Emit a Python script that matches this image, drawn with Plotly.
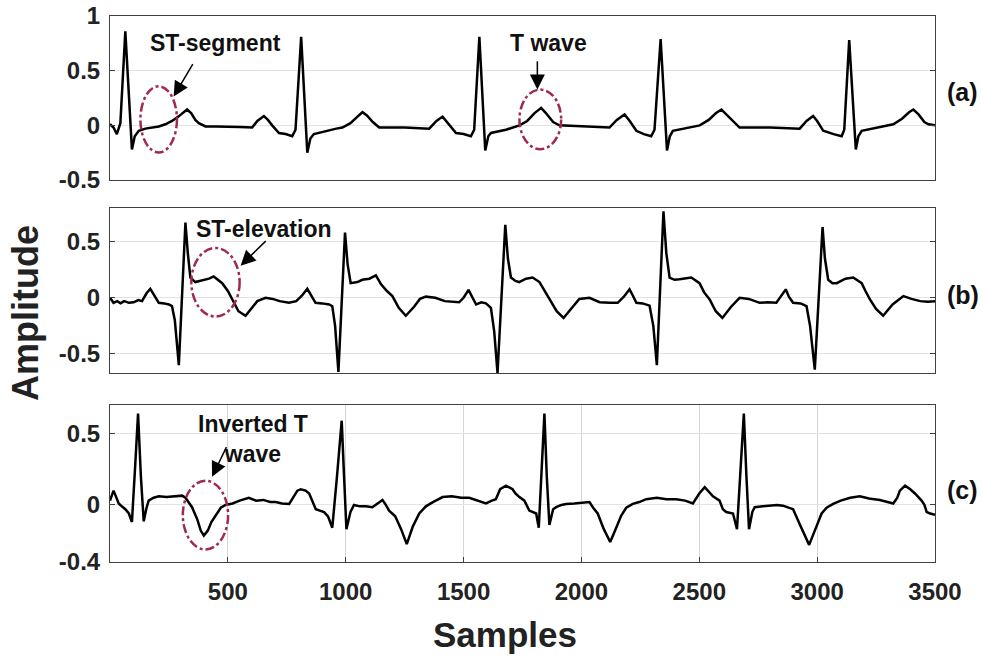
import plotly.graph_objects as go

# ---------------- data ----------------
samples_a = [0, 15, 29, 44, 65, 93, 105, 122, 150, 180,
             207, 235, 263, 290, 310, 327, 345, 362, 377, 405,
             450, 500, 550, 603, 625, 653, 670, 688, 717, 745,
             773, 787, 811, 837, 850, 865, 915, 960, 986, 1020,
             1050, 1071, 1090, 1115, 1142, 1250, 1354, 1385, 1411, 1435,
             1468, 1500, 1531, 1545, 1567, 1592, 1605, 1616, 1680, 1737,
             1770, 1800, 1829, 1850, 1880, 1906, 2000, 2119, 2150, 2183,
             2205, 2233, 2265, 2296, 2310, 2336, 2363, 2375, 2388, 2440,
             2502, 2540, 2570, 2594, 2615, 2645, 2671, 2800, 2926, 2955,
             2983, 3000, 3026, 3070, 3104, 3115, 3136, 3164, 3175, 3189,
             3250, 3323, 3360, 3390, 3408, 3430, 3455, 3472, 3500]
amp_a = [0.01, -0.02, -0.08, 0.02, 0.86, -0.22, -0.10, -0.05, -0.03, -0.02,
         -0.01, 0.01, 0.04, 0.08, 0.12, 0.145, 0.11, 0.05, 0.02, -0.01,
         -0.01, -0.01, -0.015, -0.02, 0.04, 0.085, 0.05, 0.0, -0.07, -0.08,
         -0.10, -0.04, 0.81, -0.25, -0.12, -0.08, -0.05, -0.03, -0.02, 0.02,
         0.08, 0.12, 0.09, 0.03, -0.02, -0.02, -0.03, 0.04, 0.08, 0.02,
         -0.07, -0.08, -0.10, -0.04, 0.81, -0.23, -0.10, -0.07, -0.04, 0.0,
         0.04, 0.11, 0.16, 0.11, 0.03, 0.0, -0.01, -0.02, 0.05, 0.10,
         0.04, -0.05, -0.08, -0.10, -0.04, 0.79, -0.23, -0.10, -0.05, -0.03,
         0.0, 0.05, 0.11, 0.145, 0.10, 0.03, -0.02, -0.02, -0.03, 0.04,
         0.085, 0.04, -0.05, -0.08, -0.10, -0.04, 0.78, -0.22, -0.10, -0.05,
         -0.02, 0.01, 0.06, 0.12, 0.145, 0.10, 0.03, 0.01, 0.0]

samples_b = [0, 15, 30, 45, 60, 80, 100, 120, 136, 155,
             171, 190, 207, 230, 250, 263, 275, 292, 320, 330,
             341, 362, 380, 400, 420, 440, 460, 476, 500, 518,
             545, 575, 600, 625, 660, 690, 720, 759, 790, 815,
             837, 855, 872, 900, 930, 943, 955, 969, 997, 1008,
             1021, 1050, 1070, 1100, 1128, 1150, 1175, 1198, 1225, 1255,
             1290, 1315, 1340, 1380, 1420, 1481, 1500, 1521, 1537, 1553,
             1575, 1595, 1616, 1630, 1644, 1677, 1688, 1701, 1720, 1736,
             1765, 1793, 1822, 1845, 1864, 1895, 1924, 1960, 1991, 2034,
             2077, 2120, 2154, 2180, 2204, 2218, 2233, 2260, 2289, 2305,
             2320, 2348, 2360, 2374, 2395, 2416, 2440, 2466, 2501, 2520,
             2544, 2570, 2598, 2635, 2671, 2710, 2756, 2790, 2827, 2850,
             2867, 2880, 2898, 2930, 2955, 2970, 2990, 3023, 3033, 3047,
             3065, 3083, 3120, 3153, 3189, 3205, 3224, 3250, 3280, 3320,
             3366, 3400, 3437, 3470, 3500]
amp_b = [0, -0.045, -0.03, -0.05, -0.03, -0.045, -0.04, -0.02, -0.03, 0.04,
         0.08, 0.02, -0.045, -0.05, -0.06, -0.075, -0.2, -0.60, 0.67, 0.4,
         0.18, 0.14, 0.15, 0.16, 0.17, 0.19, 0.16, 0.13, 0.06, -0.015,
         -0.12, -0.16, -0.10, -0.03, 0.0, -0.01, -0.03, -0.045, -0.03, 0.02,
         0.08, 0.02, -0.045, -0.05, -0.06, -0.075, -0.25, -0.66, 0.58, 0.3,
         0.13, 0.14, 0.16, 0.17, 0.20, 0.12, 0.06, 0.015, -0.09, -0.16,
         -0.08, -0.01, 0.01, 0.0, -0.03, -0.04, 0.0, 0.07, 0.01, -0.06,
         -0.04, -0.05, -0.09, -0.3, -0.67, 0.65, 0.35, 0.18, 0.15, 0.14,
         0.17, 0.18, 0.14, 0.06, -0.015, -0.12, -0.18, -0.09, -0.01, 0.0,
         -0.04, -0.045, -0.045, 0.01, 0.075, 0.02, -0.045, -0.05, -0.07, -0.25,
         -0.60, 0.77, 0.4, 0.18, 0.16, 0.165, 0.17, 0.18, 0.13, 0.05,
         -0.015, -0.12, -0.18, -0.08, 0.0, -0.01, -0.045, -0.04, -0.045, 0.02,
         0.075, 0.01, -0.045, -0.05, -0.075, -0.25, -0.64, 0.63, 0.35, 0.16,
         0.13, 0.13, 0.17, 0.18, 0.13, 0.06, -0.015, -0.1, -0.16, -0.06,
         0.015, -0.01, -0.03, -0.035, -0.03]

samples_c = [0, 15, 25, 37, 50, 65, 80, 93, 106, 119,
             131, 143, 155, 164, 185, 207, 240, 270, 306, 320,
             348, 370, 385, 398, 415, 430, 448, 470, 490, 520,
             550, 589, 620, 650, 680, 703, 730, 760, 780, 795,
             809, 830, 845, 860, 873, 890, 908, 925, 943, 963,
             983, 993, 1003, 1020, 1035, 1060, 1085, 1113, 1135, 1156,
             1170, 1184, 1210, 1235, 1259, 1285, 1312, 1340, 1370, 1411,
             1450, 1490, 1524, 1560, 1595, 1620, 1637, 1655, 1680, 1708,
             1720, 1737, 1758, 1779, 1795, 1808, 1819, 1831, 1843, 1853,
             1864, 1880, 1893, 1915, 1935, 1970, 2000, 2034, 2050, 2069,
             2095, 2122, 2145, 2169, 2190, 2218, 2245, 2275, 2320, 2360,
             2402, 2440, 2473, 2500, 2523, 2540, 2558, 2586, 2600, 2614,
             2643, 2660, 2675, 2689, 2700, 2711, 2725, 2735, 2770, 2800,
             2830, 2855, 2880, 2898, 2930, 2966, 2990, 3019, 3040, 3068,
             3100, 3140, 3181, 3220, 3266, 3300, 3323, 3340, 3351, 3373,
             3395, 3415, 3443, 3455, 3465, 3480, 3500]
amp_c = [0.03, 0.10, 0.06, 0.01, -0.01, -0.03, -0.06, -0.12, 0.25, 0.64,
         0.2, -0.115, -0.02, 0.03, 0.05, 0.06, 0.055, 0.06, 0.065, 0.05,
         -0.016, -0.1, -0.18, -0.215, -0.18, -0.12, -0.075, -0.02, 0.0, 0.01,
         0.03, 0.05, 0.03, 0.035, 0.02, 0.02, 0.01, 0.007, 0.06, 0.1,
         0.11, 0.1, 0.08, 0.02, -0.03, -0.04, -0.05, -0.08, -0.16, 0.2,
         0.59, 0.2, -0.17, -0.05, 0.0, -0.01, -0.01, -0.016, 0.01, 0.035,
         0.0, -0.04, -0.08, -0.17, -0.275, -0.15, -0.06, -0.01, 0.02, 0.055,
         0.06, 0.05, 0.05, 0.03, 0.01, 0.03, 0.04, 0.11, 0.135, 0.11,
         0.08, 0.055, 0.03, -0.04, -0.05, -0.06, -0.16, 0.25, 0.64, 0.2,
         -0.14, -0.03, -0.016, 0.0, 0.007, 0.01, 0.015, 0.02, -0.02, -0.06,
         -0.17, -0.26, -0.17, -0.075, -0.02, 0.007, 0.02, 0.04, 0.05, 0.04,
         0.04, 0.03, 0.01, 0.08, 0.125, 0.09, 0.06, 0.03, -0.03, -0.05,
         -0.06, -0.17, 0.25, 0.64, 0.2, -0.17, -0.05, -0.016, -0.01, -0.005,
         0.0, -0.005, -0.02, -0.03, -0.15, -0.28, -0.18, -0.06, -0.02, 0.007,
         0.03, 0.05, 0.06, 0.045, 0.035, 0.02, 0.01, 0.05, 0.10, 0.135,
         0.11, 0.08, 0.03, 0.0, -0.05, -0.06, -0.07]

x_ticks = [500, 1000, 1500, 2000, 2500, 3000, 3500]
y_ticks_a = [-0.5, 0, 0.5, 1]
y_ticks_b = [-0.5, 0, 0.5]
y_ticks_c = [-0.4, 0, 0.5]
panel_labels = ["(a)", "(b)", "(c)"]


def labels(vals):
    return [f"{v:g}" for v in vals]


# ---------------- figure ----------------
FONT = "Liberation Sans, Arial, Helvetica, sans-serif"
AX = "#404040"
GRID = "#e3e3e3"
fig = go.Figure()
line = dict(color="black", width=2.5)
fig.add_trace(go.Scatter(x=samples_a, y=amp_a, mode="lines", line=line, xaxis="x", yaxis="y", showlegend=False))
fig.add_trace(go.Scatter(x=samples_b, y=amp_b, mode="lines", line=line, xaxis="x2", yaxis="y2", showlegend=False))
fig.add_trace(go.Scatter(x=samples_c, y=amp_c, mode="lines", line=line, xaxis="x3", yaxis="y3", showlegend=False))

tickfont = dict(family=FONT, size=24, color="#222", weight="bold")
common_x = dict(range=[0, 3500], showline=True, linecolor=AX, linewidth=1, mirror=True, zeroline=False,
                automargin=False)
common_y = dict(showline=True, linecolor=AX, linewidth=1, mirror="allticks", zeroline=False,
                ticks="inside", ticklen=5, tickcolor=AX, showgrid=True, gridcolor=GRID, gridwidth=1,
                tickfont=tickfont, ticklabelstandoff=4, ticklabeloverflow="allow", automargin=False)

fig.update_layout(
    width=982, height=657, autosize=False,
    margin=dict(l=110, r=47, t=16, b=95),
    paper_bgcolor="white", plot_bgcolor="white",
    xaxis=dict(domain=[0, 1], anchor="y", showticklabels=False, ticks="", showgrid=False, **common_x),
    xaxis2=dict(domain=[0, 1], anchor="y2", showticklabels=False, ticks="", showgrid=False, **common_x),
    xaxis3=dict(domain=[0, 1], anchor="y3", tickvals=x_ticks, ticktext=labels(x_ticks), ticks="inside",
                ticklen=5, tickcolor=AX, showgrid=True, gridcolor="#d6d6d6", tickfont=tickfont,
                ticklabelstandoff=8, ticklabeloverflow="allow", **common_x),
    yaxis=dict(domain=[0.6996, 1.0], anchor="x", range=[-0.5, 1], tickvals=y_ticks_a,
               ticktext=labels(y_ticks_a), **common_y),
    yaxis2=dict(domain=[0.3462, 0.6484], anchor="x2", range=[-0.67, 0.8], tickvals=y_ticks_b,
                ticktext=labels(y_ticks_b), **common_y),
    yaxis3=dict(domain=[0.0, 0.2875], anchor="x3", range=[-0.4, 0.7], tickvals=y_ticks_c,
                ticktext=labels(y_ticks_c), **common_y),
)

# ellipses marking features
ell = dict(color="#A02A4E", width=2.5, dash="dashdot")
fig.add_shape(type="circle", xref="x", yref="y", x0=129, x1=284, y0=-0.248, y1=0.357, line=ell)
fig.add_shape(type="circle", xref="x", yref="y", x0=1737, x1=1914, y0=-0.218, y1=0.327, line=ell)
fig.add_shape(type="circle", xref="x2", yref="y2", x0=345, x1=550, y0=-0.167, y1=0.444, line=ell)
fig.add_shape(type="circle", xref="x3", yref="y3", x0=309, x1=501, y0=-0.312, y1=0.169, line=ell)

# arrows
def arrow(xr, yr, hx, hy, tx, ty):
    fig.add_annotation(xref=xr, yref=yr, axref=xr, ayref=yr, x=hx, y=hy, ax=tx, ay=ty,
                       text="", showarrow=True, arrowhead=2, arrowsize=2.0, arrowwidth=1.5,
                       arrowcolor="black", standoff=0, startstandoff=0)

arrow("x", "y", 270, 0.264, 355, 0.573)
arrow("x", "y", 1813, 0.327, 1813, 0.60)
arrow("x2", "y2", 554, 0.286, 667, 0.518)
arrow("x3", "y3", 433, 0.197, 497, 0.415)

# feature texts
tfont = dict(family=FONT, size=23, color="#111", weight="bold")
fig.add_annotation(xref="x", yref="y", x=447, y=0.755, text="ST-segment", showarrow=False, font=tfont)
fig.add_annotation(xref="x", yref="y", x=1860, y=0.755, text="T wave", showarrow=False, font=tfont)
fig.add_annotation(xref="x2", yref="y2", x=652, y=0.616, text="ST-elevation", showarrow=False, font=tfont)
fig.add_annotation(xref="x3", yref="y3", x=606, y=0.465, text="Inverted T<br>wave", showarrow=False,
                   font=tfont, align="center")

# panel labels
lfont = dict(family=FONT, size=25, color="#111", weight="bold")
for lab, yp in zip(panel_labels, [0.861, 0.489, 0.132]):
    fig.add_annotation(xref="paper", yref="paper", x=1.012, y=yp, xanchor="left", yanchor="middle",
                       text=lab, showarrow=False, font=lfont)

# axis titles
fig.add_annotation(xref="paper", yref="paper", x=-0.103, y=0.456, text="Amplitude", textangle=-90,
                   showarrow=False, xanchor="center", yanchor="middle",
                   font=dict(family=FONT, size=36, color="#222", weight="bold"))
fig.add_annotation(xref="paper", yref="paper", x=0.479, y=-0.132, text="Samples",
                   showarrow=False, xanchor="center", yanchor="middle",
                   font=dict(family=FONT, size=35, color="#222", weight="bold"))

# remove the default 8px page margin so the 982x657 figure fills the window exactly
fig.write_html("out.html", config={"displayModeBar": False},
               post_script="document.body.style.margin='0';")
